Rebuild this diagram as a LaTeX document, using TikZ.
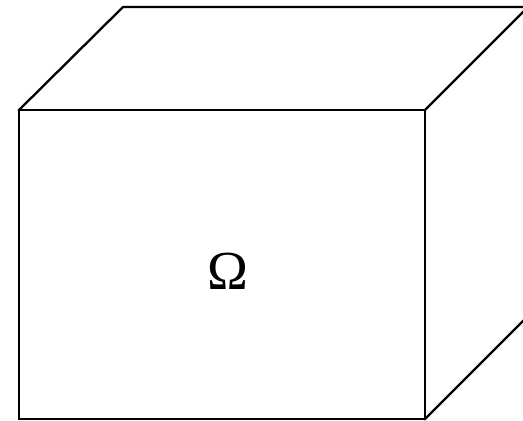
\documentclass[tikz,border=0pt]{standalone}
\usepackage{fontspec}
\setmainfont{Liberation Serif}
\begin{document}
\begin{tikzpicture}[x=1pt,y=-1pt,edge/.style={line width=2.3pt,line join=miter,line cap=rect}]
\useasboundingbox (0,0) rectangle (523,421);
\clip (0,0) rectangle (523,421);
\coordinate (A) at (19,110);
\coordinate (B) at (425,110);
\coordinate (C) at (425,419);
\coordinate (D) at (19,419);
\coordinate (E) at (123,7);
\coordinate (F) at (528,7);
\coordinate (G) at (528,316);
\draw[edge] (A) -- (B) -- (C) -- (D) -- cycle;
\draw[edge] (A) -- (E) -- (F) -- (B);
\draw[edge] (F) -- (G) -- (C);
\node[inner sep=0pt,font=\fontsize{55}{55}\selectfont] (omega) at (228,271) {Ω};
\end{tikzpicture}
\end{document}
